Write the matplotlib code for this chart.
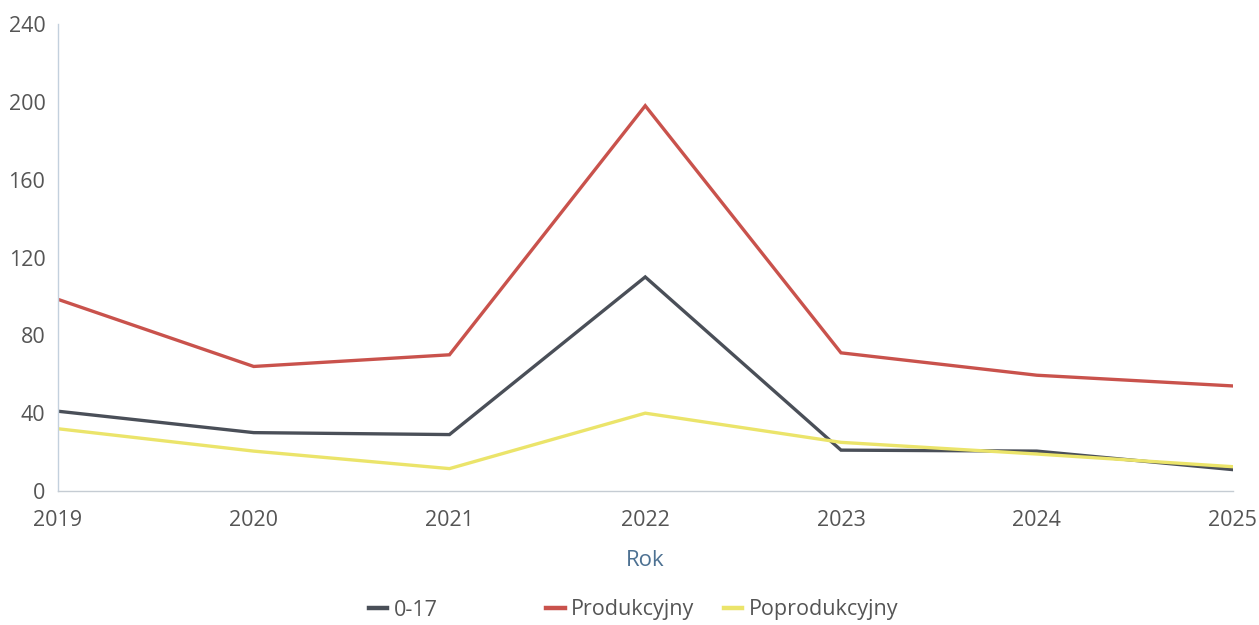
import matplotlib.pyplot as plt
from matplotlib.lines import Line2D

plt.rcParams['font.family'] = ['Open Sans', 'DejaVu Sans']

years = ['2019', '2020', '2021', '2022', '2023', '2024', '2025']
wiek_0_17 = [41, 30, 29, 110, 21, 20.5, 11]
produkcyjny = [98.5, 64, 70, 198, 71, 59.5, 54]
poprodukcyjny = [32, 20.5, 11.5, 40, 25, 19, 12.5]

labels = ['0-17', 'Produkcyjny', 'Poprodukcyjny']
colors = ['#4a4f58', '#c9524c', '#ebe46a']

fig = plt.figure(figsize=(12.59, 6.25), dpi=100)
ax = fig.add_axes([0.046, 0.2144, 0.933, 0.7472])

x = range(len(years))
for vals, c, lab in zip([wiek_0_17, produkcyjny, poprodukcyjny], colors, labels):
    ax.plot(x, vals, color=c, lw=2.4, label=lab, solid_joinstyle='miter')

ax.set_xlim(0, len(years) - 1)
ax.set_ylim(0, 240)
ax.set_yticks(range(0, 241, 40))
ax.set_xticks(list(x))
ax.set_xticklabels(years)

for s in ['top', 'right']:
    ax.spines[s].set_visible(False)
ax.spines['left'].set_color('#c3d0dd')
ax.spines['left'].set_linestyle((0, (1, 1)))
ax.spines['left'].set_linewidth(1)
ax.spines['bottom'].set_color('#c5ccd3')
ax.spines['bottom'].set_linewidth(1)

ax.tick_params(axis='both', length=0, labelsize=15.5, labelcolor='#555555')
ax.tick_params(axis='x', pad=14)
ax.tick_params(axis='y', pad=9)

ax.set_xlabel('Rok', fontsize=16, color='#4d7192', labelpad=13)

# legend entries spread evenly below the axis title
xs = [0.293, 0.434, 0.575]
for c, lab, xp in zip(colors, labels, xs):
    h = Line2D([], [], color=c, lw=3.2)
    fig.legend([h], [lab], loc='center left', bbox_to_anchor=(xp, 0.024),
               frameon=False, fontsize=15.5, labelcolor='#555555',
               handlelength=0.85, handletextpad=0.3, borderpad=0, borderaxespad=0)

fig.savefig('out.png', dpi=100, facecolor='white')
